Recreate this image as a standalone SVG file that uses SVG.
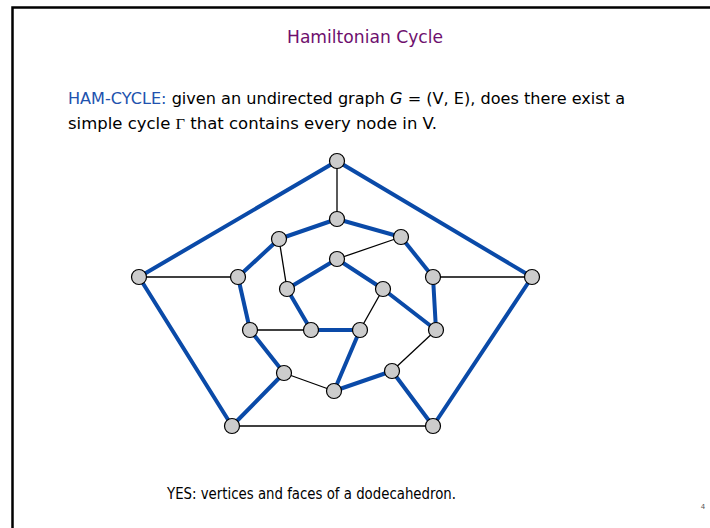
<svg xmlns="http://www.w3.org/2000/svg" width="710" height="528" viewBox="0 0 710 528">
<style>
.txt{font-family:"Comic Sans MS","DejaVu Sans",sans-serif;}
.cyc{stroke:#0a4aa8;stroke-width:4;stroke-linecap:round;fill:none;}
.edge{stroke:#000;stroke-width:1.3;fill:none;}
.node{fill:#cccccc;stroke:#000;stroke-width:1.2;}
</style>
<rect x="0" y="0" width="710" height="528" fill="#fff"/>
<rect x="12.5" y="7.5" width="720" height="540" fill="none" stroke="#000" stroke-width="2.5"/>
<text class="txt" x="365" y="43" font-size="18.5" fill="#6e0f6e" text-anchor="middle" textLength="156" lengthAdjust="spacingAndGlyphs">Hamiltonian Cycle</text>
<text class="txt" x="68" y="104" font-size="15.5" fill="#000" textLength="557" lengthAdjust="spacingAndGlyphs"><tspan fill="#2152ae">HAM-CYCLE:</tspan>  given an undirected graph <tspan font-style="italic">G</tspan> = (V, E), does there exist a</text>
<text class="txt" x="68" y="129" font-size="15.5" fill="#000" textLength="369" lengthAdjust="spacingAndGlyphs">simple cycle <tspan font-family="Liberation Serif,serif">Γ</tspan> that contains every node in V.</text>
<text class="txt" x="167" y="499" font-size="15.5" fill="#000" textLength="289" lengthAdjust="spacingAndGlyphs">YES:  vertices and faces of a dodecahedron.</text>
<text class="txt" x="703" y="509" font-size="7" fill="#555" text-anchor="middle">4</text>
<g id="connectors">
<line class="edge" x1="337" y1="161" x2="337" y2="219"/>
<line class="edge" x1="139" y1="277" x2="238" y2="277"/>
<line class="edge" x1="532" y1="277" x2="433" y2="277"/>
<line class="edge" x1="232" y1="426" x2="433" y2="426"/>
<line class="edge" x1="279" y1="239" x2="287" y2="289"/>
<line class="edge" x1="401" y1="237" x2="337" y2="259"/>
<line class="edge" x1="383" y1="289" x2="360" y2="330"/>
<line class="edge" x1="250" y1="330" x2="311" y2="330"/>
<line class="edge" x1="284" y1="373" x2="334" y2="391"/>
<line class="edge" x1="392" y1="371" x2="436" y2="330"/>
<line class="cyc" x1="337" y1="161" x2="139" y2="277"/>
<line class="cyc" x1="337" y1="161" x2="532" y2="277"/>
<line class="cyc" x1="139" y1="277" x2="232" y2="426"/>
<line class="cyc" x1="532" y1="277" x2="433" y2="426"/>
<line class="cyc" x1="232" y1="426" x2="284" y2="373"/>
<line class="cyc" x1="433" y1="426" x2="392" y2="371"/>
<line class="cyc" x1="284" y1="373" x2="250" y2="330"/>
<line class="cyc" x1="250" y1="330" x2="238" y2="277"/>
<line class="cyc" x1="238" y1="277" x2="279" y2="239"/>
<line class="cyc" x1="279" y1="239" x2="337" y2="219"/>
<line class="cyc" x1="337" y1="219" x2="401" y2="237"/>
<line class="cyc" x1="401" y1="237" x2="433" y2="277"/>
<line class="cyc" x1="433" y1="277" x2="436" y2="330"/>
<line class="cyc" x1="436" y1="330" x2="383" y2="289"/>
<line class="cyc" x1="383" y1="289" x2="337" y2="259"/>
<line class="cyc" x1="337" y1="259" x2="287" y2="289"/>
<line class="cyc" x1="287" y1="289" x2="311" y2="330"/>
<line class="cyc" x1="311" y1="330" x2="360" y2="330"/>
<line class="cyc" x1="360" y1="330" x2="334" y2="391"/>
<line class="cyc" x1="334" y1="391" x2="392" y2="371"/>
</g>
<g id="n1"><circle class="node" cx="337" cy="161" r="7.5"/></g>
<g id="n2"><circle class="node" cx="337" cy="219" r="7.5"/></g>
<g id="n3"><circle class="node" cx="279" cy="239" r="7.5"/></g>
<g id="n4"><circle class="node" cx="401" cy="237" r="7.5"/></g>
<g id="n5"><circle class="node" cx="337" cy="259" r="7.5"/></g>
<g id="n6"><circle class="node" cx="139" cy="277" r="7.5"/></g>
<g id="n7"><circle class="node" cx="238" cy="277" r="7.5"/></g>
<g id="n8"><circle class="node" cx="287" cy="289" r="7.5"/></g>
<g id="n9"><circle class="node" cx="383" cy="289" r="7.5"/></g>
<g id="n10"><circle class="node" cx="433" cy="277" r="7.5"/></g>
<g id="n11"><circle class="node" cx="532" cy="277" r="7.5"/></g>
<g id="n12"><circle class="node" cx="250" cy="330" r="7.5"/></g>
<g id="n13"><circle class="node" cx="311" cy="330" r="7.5"/></g>
<g id="n14"><circle class="node" cx="360" cy="330" r="7.5"/></g>
<g id="n15"><circle class="node" cx="436" cy="330" r="7.5"/></g>
<g id="n16"><circle class="node" cx="284" cy="373" r="7.5"/></g>
<g id="n17"><circle class="node" cx="334" cy="391" r="7.5"/></g>
<g id="n18"><circle class="node" cx="392" cy="371" r="7.5"/></g>
<g id="n19"><circle class="node" cx="232" cy="426" r="7.5"/></g>
<g id="n20"><circle class="node" cx="433" cy="426" r="7.5"/></g>
</svg>
